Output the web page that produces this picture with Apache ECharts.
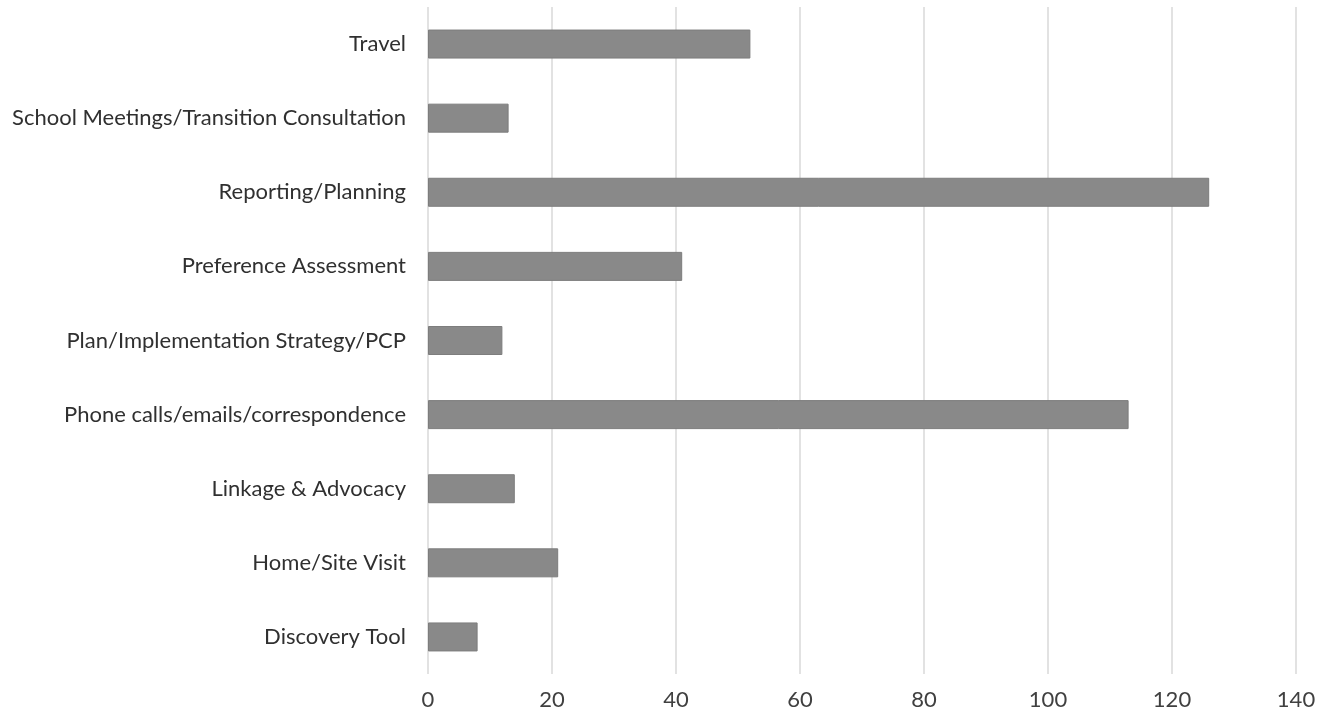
<!DOCTYPE html>
<html>
<head>
<meta charset="utf-8">
<title>Activity hours</title>
<script src="https://cdn.jsdelivr.net/npm/echarts@6/dist/echarts.min.js"></script>
<style>
  html, body { margin: 0; padding: 0; background: #ffffff; }
  #chart { width: 1332px; height: 719px; }
</style>
</head>
<body>
<div id="chart"></div>
<script>
// Activity categories, listed top to bottom as drawn
const categories = [
  'Travel',
  'School Meetings/Transition Consultation',
  'Reporting/Planning',
  'Preference Assessment',
  'Plan/Implementation Strategy/PCP',
  'Phone calls/emails/correspondence',
  'Linkage & Advocacy',
  'Home/Site Visit',
  'Discovery Tool'
];

// Value for each activity, same order as categories
const values = [52, 13, 126, 41, 12, 113, 14, 21, 8];

// Value axis range
const axisMin = 0;
const axisMax = 140;
const axisStep = 20;

const chart = echarts.init(document.getElementById('chart'), null, { renderer: 'canvas' });

chart.setOption({
  animation: false,
  backgroundColor: '#ffffff',
  textStyle: { fontFamily: 'Lato, "Open Sans", sans-serif' },
  grid: { left: 428, right: 36, top: 7, bottom: 45, containLabel: false },
  xAxis: {
    type: 'value',
    min: axisMin,
    max: axisMax,
    interval: axisStep,
    axisLine: { show: false },
    axisTick: { show: false },
    splitLine: { show: true, lineStyle: { color: '#d9d9d9', width: 1.5 } },
    axisLabel: { color: '#404040', fontSize: 22, margin: 15 }
  },
  yAxis: {
    type: 'category',
    data: categories,
    inverse: true,
    axisLine: { show: false },
    axisTick: { show: false },
    axisLabel: { color: '#303030', fontSize: 22, margin: 22 }
  },
  series: [{
    type: 'bar',
    data: values,
    barWidth: 29,
    itemStyle: { color: '#898989', borderColor: '#7d7d7d', borderWidth: 1 }
  }]
});
</script>
</body>
</html>
